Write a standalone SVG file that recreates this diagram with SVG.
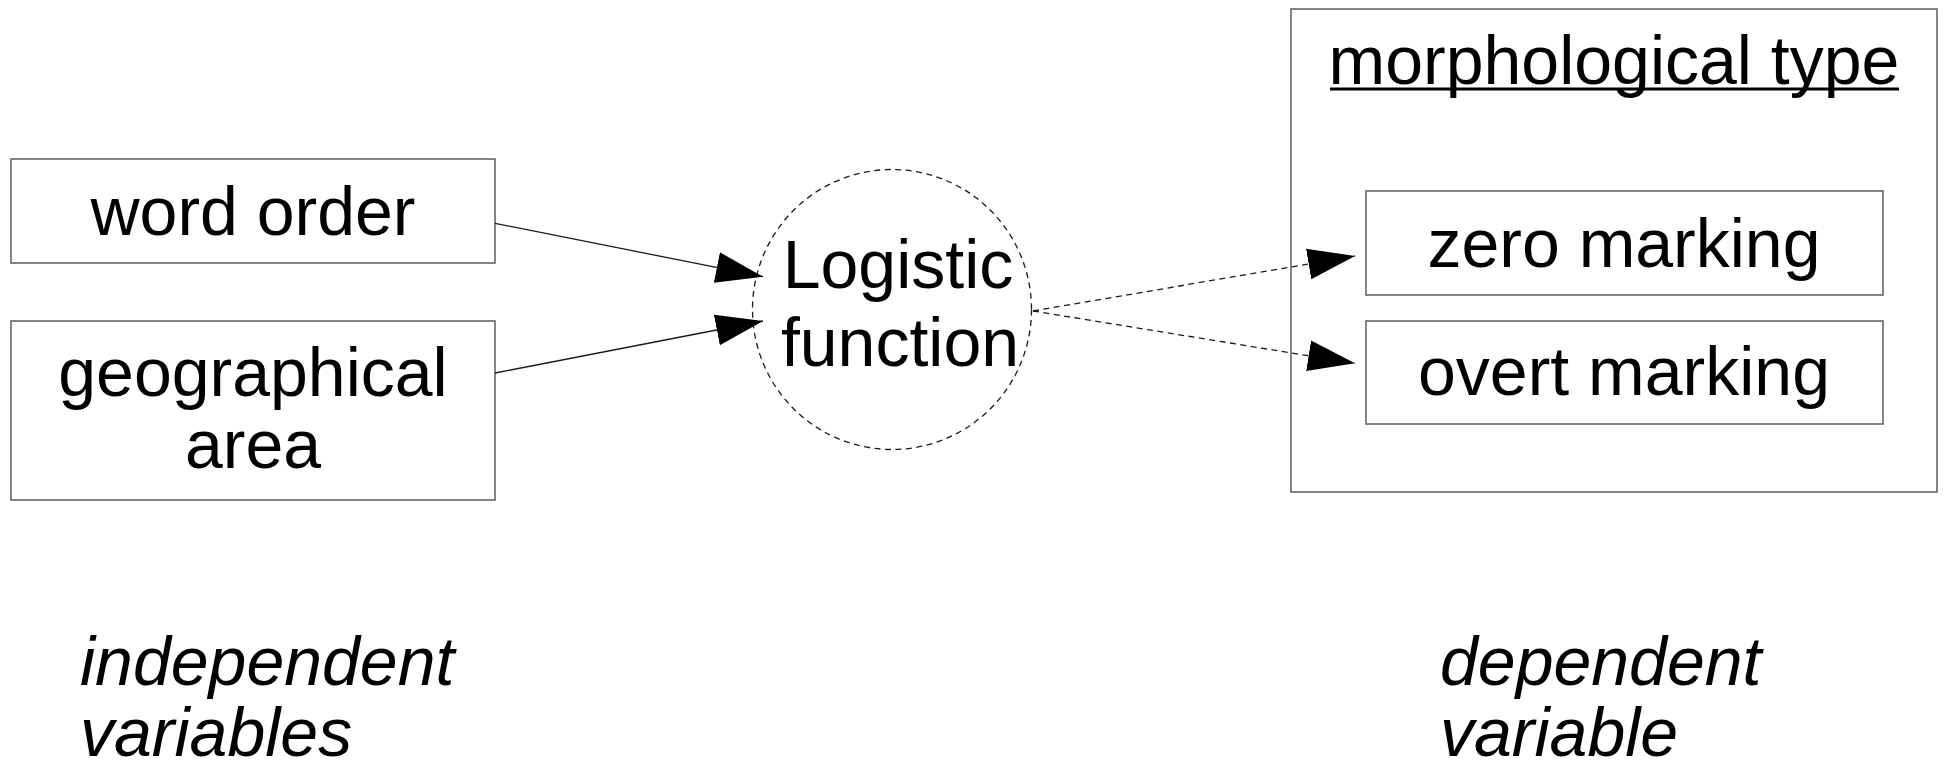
<svg xmlns="http://www.w3.org/2000/svg" width="1944" height="766" viewBox="0 0 1944 766">
<style>
  .box { fill: #ffffff; stroke: #666666; stroke-width: 1.6; }
  .lbl { font-family: "Liberation Sans", Arial, sans-serif; font-size: 68px; fill: #000000; text-anchor: middle; }
  .ital { font-family: "Liberation Sans", Arial, sans-serif; font-size: 68px; font-style: italic; fill: #000000; }
  .solid { fill: none; stroke: #1a1a1a; stroke-width: 1.3; }
  .dash { fill: none; stroke: #1a1a1a; stroke-width: 1.3; stroke-dasharray: 6 4.5; }
</style>
<defs>
  <marker id="arrow" markerUnits="userSpaceOnUse" markerWidth="50" markerHeight="34" refX="47" refY="16" orient="auto" viewBox="0 0 50 34">
    <polygon points="0,0.5 47,16 0,31.5" fill="#000000"/>
  </marker>
</defs>
<rect width="1944" height="766" fill="#ffffff"/>

<g id="node-word-order">
  <rect class="box" x="11" y="159" width="484" height="104"/>
  <text class="lbl" x="253" y="235">word order</text>
</g>

<g id="node-geographical-area">
  <rect class="box" x="11" y="321" width="484" height="179"/>
  <text class="lbl" x="253" y="396">geographical</text>
  <text class="lbl" x="253" y="468">area</text>
</g>

<g id="node-logistic-function">
  <ellipse cx="892" cy="309.5" rx="139.5" ry="140" fill="none" stroke="#1a1a1a" stroke-width="1.3" stroke-dasharray="6 4.5"/>
  <text class="lbl" x="898" y="288">Logistic</text>
  <text class="lbl" x="900" y="366">function</text>
</g>

<g id="node-morphological-type">
  <rect class="box" x="1291" y="9" width="646" height="483"/>
  <text class="lbl" x="1614" y="84">morphological type</text>
  <line x1="1330" y1="89" x2="1899" y2="89" stroke="#000000" stroke-width="3"/>
</g>

<g id="node-zero-marking">
  <rect class="box" x="1366" y="191" width="517" height="104"/>
  <text class="lbl" x="1624" y="267">zero marking</text>
</g>

<g id="node-overt-marking">
  <rect class="box" x="1366" y="321" width="517" height="103"/>
  <text class="lbl" x="1624" y="395">overt marking</text>
</g>

<g id="connectors">
  <path class="solid" d="M495,223.3 L763,276.7" marker-end="url(#arrow)"/>
  <path class="solid" d="M495,373 L763,321" marker-end="url(#arrow)"/>
  <path class="dash" d="M1033,311 L1355,256" marker-end="url(#arrow)"/>
  <path class="dash" d="M1033,311 L1355,363.3" marker-end="url(#arrow)"/>
</g>

<g id="captions">
  <text class="ital" x="80" y="685">independent</text>
  <text class="ital" x="80" y="756">variables</text>
  <text class="ital" x="1440" y="685">dependent</text>
  <text class="ital" x="1440" y="756">variable</text>
</g>
</svg>
